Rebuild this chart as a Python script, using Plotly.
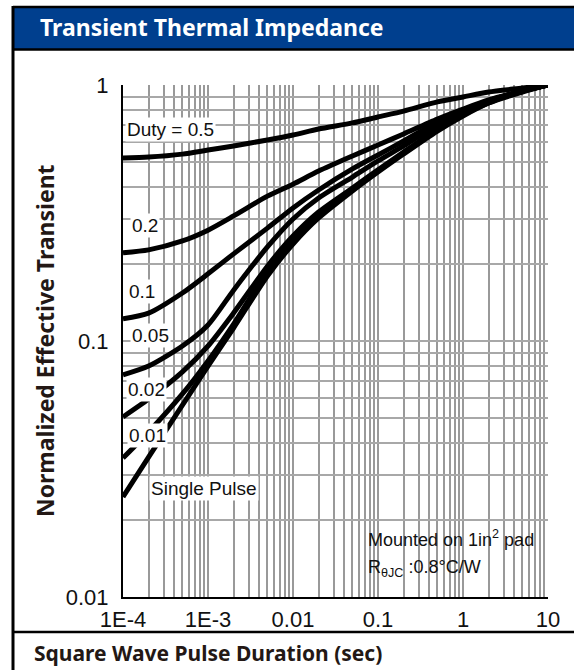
import plotly.graph_objects as go

# ---- data ----
pulse_sec = [1e-4, 2e-4, 5e-4, 1e-3, 2e-3, 5e-3, 1e-2, 2e-2, 5e-2, 0.1, 0.2, 0.5, 1, 2, 5, 10]
duty_05 = [0.519, 0.523, 0.537, 0.557, 0.578, 0.610, 0.638, 0.673, 0.711, 0.750, 0.791, 0.859, 0.898, 0.939, 0.973, 1.0]
duty_02 = [0.221, 0.227, 0.246, 0.271, 0.308, 0.368, 0.410, 0.461, 0.528, 0.583, 0.644, 0.736, 0.805, 0.874, 0.947, 1.0]
duty_01 = [0.122, 0.1285, 0.154, 0.183, 0.219, 0.276, 0.331, 0.389, 0.470, 0.533, 0.604, 0.717, 0.791, 0.866, 0.947, 1.0]
duty_005 = [0.0737, 0.0798, 0.0956, 0.1155, 0.158, 0.233, 0.2997, 0.362, 0.437, 0.505, 0.578, 0.698, 0.784, 0.866, 0.947, 1.0]
duty_002 = [0.0505, 0.0593, 0.0757, 0.0956, 0.1287, 0.196, 0.257, 0.319, 0.396, 0.466, 0.547, 0.673, 0.770, 0.858, 0.947, 1.0]
duty_001 = [0.0349, 0.0441, 0.0621, 0.0836, 0.1165, 0.1877, 0.248, 0.3106, 0.3925, 0.4614, 0.5428, 0.6671, 0.7636, 0.8506, 0.947, 1.0]
single_pulse = [0.0246, 0.0352, 0.0562, 0.0798, 0.1124, 0.1795, 0.2392, 0.3023, 0.3855, 0.4572, 0.5377, 0.661, 0.7568, 0.8506, 0.939, 1.0]

series = [duty_05, duty_02, duty_01, duty_005, duty_002, duty_001, single_pulse]

x_major = [1e-4, 1e-3, 1e-2, 1e-1, 1, 10]
x_major_labels = ["1E-4", "1E-3", "0.01", "0.1", "1", "10"]
y_major = [0.01, 0.1, 1]
y_major_labels = ["0.01", "0.1", "1"]

curve_labels = ["Duty = 0.5", "0.2", "0.1", "0.05", "0.02", "0.01", "Single Pulse"]

# ---- layout geometry (pixels) ----
W, H = 574, 670
L, R, T, B = 123, 548, 85, 597


def px(xp):
    return (xp - L) / (R - L)


def py(yp):
    return (B - yp) / (B - T)


fig = go.Figure()
for s in series:
    fig.add_trace(go.Scatter(x=pulse_sec, y=s, mode="lines",
                             line=dict(color="black", width=5, shape="spline", smoothing=0.7),
                             showlegend=False, hoverinfo="skip"))


def label_for(v, majors, labels):
    for u, t in zip(majors, labels):
        if abs(v - u) / u < 1e-9:
            return t
    return ""


# grid ticks 1..9 per decade
x_grid = [m * 10.0 ** e for e in range(-4, 1) for m in range(1, 10)] + [10.0]
y_grid = [m * 10.0 ** e for e in range(-2, 0) for m in range(1, 10)] + [1.0]
x_text = [label_for(v, x_major, x_major_labels) for v in x_grid]
y_text = [label_for(v, y_major, y_major_labels) for v in y_grid]

tick_font = dict(family="Liberation Sans, Arial, sans-serif", size=22, color="#111111")

fig.update_xaxes(type="log", range=[-4, 1], tickvals=x_grid, ticktext=x_text,
                 showgrid=True, gridcolor="#999999", gridwidth=1.5,
                 showline=True, linecolor="black", linewidth=2, ticks="",
                 ticklabelstandoff=2, tickfont=tick_font, zeroline=False)
fig.update_yaxes(type="log", range=[-2, 0], tickvals=y_grid, ticktext=y_text,
                 showgrid=True, gridcolor="#a8a8a8", gridwidth=1.5,
                 showline=True, linecolor="black", linewidth=2, ticks="",
                 ticklabelstandoff=8, tickfont=tick_font, zeroline=False)

shapes = []
# title bar and frame
shapes.append(dict(type="rect", xref="paper", yref="paper", x0=px(13), x1=px(590),
                   y0=py(49), y1=py(7), fillcolor="#003F8E", line=dict(width=0), layer="above"))
shapes.append(dict(type="line", xref="paper", yref="paper", x0=px(13), x1=px(590),
                   y0=py(7), y1=py(7), line=dict(color="black", width=2.5)))
shapes.append(dict(type="line", xref="paper", yref="paper", x0=px(13), x1=px(590),
                   y0=py(49.5), y1=py(49.5), line=dict(color="black", width=2.5)))
shapes.append(dict(type="line", xref="paper", yref="paper", x0=px(13), x1=px(13),
                   y0=py(6), y1=py(680), line=dict(color="black", width=3)))
shapes.append(dict(type="line", xref="paper", yref="paper", x0=px(13), x1=px(590),
                   y0=py(632), y1=py(632), line=dict(color="black", width=2.5)))
# white box behind the note
shapes.append(dict(type="rect", xref="paper", yref="paper", x0=px(342), x1=px(539),
                   y0=py(586), y1=py(520), fillcolor="white", line=dict(width=0), layer="between"))

title_font = "Noto Sans, Open Sans, sans-serif"
annotations = []
annotations.append(dict(text="<b>Transient Thermal Impedance</b>", xref="paper", yref="paper",
                        x=px(38), y=py(27), xanchor="left", yanchor="middle", showarrow=False,
                        font=dict(family=title_font, size=23, color="white")))
annotations.append(dict(text="<b>Square Wave Pulse Duration (sec)</b>", xref="paper", yref="paper",
                        x=px(32), y=py(653), xanchor="left", yanchor="middle", showarrow=False,
                        font=dict(family=title_font, size=21, color="#231815")))
annotations.append(dict(text="<b>Normalized Effective Transient</b>", xref="paper", yref="paper",
                        x=px(45), y=py(341), xanchor="center", yanchor="middle", showarrow=False,
                        textangle=-90,
                        font=dict(family=title_font, size=23, color="#231815")))

# curve labels
lab_font = dict(family="Liberation Sans, Arial, sans-serif", size=19, color="#111111")
lab_pos = [(170, 129), (145, 225), (142, 291), (150, 335), (146, 389), (147, 435), (204, 488)]
for lab, (xp, yp) in zip(curve_labels, lab_pos):
    annotations.append(dict(text=lab, xref="paper", yref="paper", x=px(xp), y=py(yp),
                            xanchor="center", yanchor="middle", showarrow=False,
                            bgcolor="white", borderpad=1, font=lab_font))

note_font = dict(family="Liberation Sans, Arial, sans-serif", size=18, color="#111111")
annotations.append(dict(text="Mounted on 1in<sup>2</sup> pad", xref="paper", yref="paper",
                        x=px(366), y=py(538), xanchor="left", yanchor="middle", showarrow=False,
                        font=note_font))
annotations.append(dict(text="R<sub>θJC</sub> :0.8°C/W", xref="paper", yref="paper",
                        x=px(366), y=py(568), xanchor="left", yanchor="middle", showarrow=False,
                        font=note_font))

fig.update_layout(width=W, height=H, margin=dict(l=L, r=W - R, t=T, b=H - B),
                  paper_bgcolor="white", plot_bgcolor="white",
                  shapes=shapes, annotations=annotations, showlegend=False)

fig.write_html("out.html")
